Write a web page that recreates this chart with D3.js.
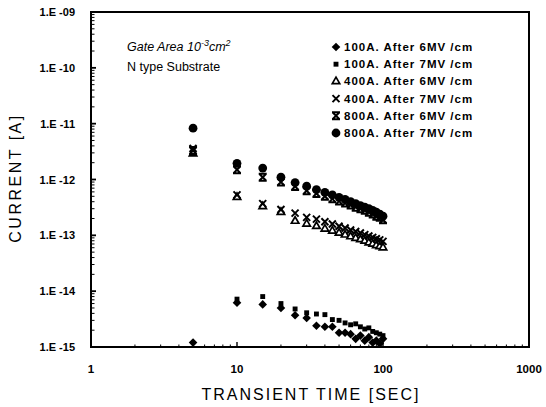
<!DOCTYPE html>
<html>
<head>
<meta charset="utf-8">
<script src="https://cdn.jsdelivr.net/npm/d3@7.9.0/dist/d3.min.js"></script>
<style>
  body { margin: 0; background: #fff; }
  svg { font-family: "Liberation Sans", Arial, sans-serif; }
</style>
</head>
<body>
<svg id="chart" width="546" height="407"></svg>
<script>
// transient time [sec]
const times = [5, 10, 15, 20, 25, 30, 35, 40, 45, 50, 55, 60, 65, 70, 75, 80, 85, 90, 95, 100];

// current [A]
const i100a6 = [1.2e-15, 6.2e-15, 5.8e-15, 5.0e-15, 3.7e-15, 3.3e-15, 2.4e-15, 2.3e-15, 2.3e-15, 1.8e-15,
                1.8e-15, 1.7e-15, 1.4e-15, 1.6e-15, 1.3e-15, 1.5e-15, 1.2e-15, 1.3e-15, 1.15e-15, 1.4e-15];
const i100a7 = [null, 7.2e-15, 8.0e-15, 6.0e-15, 4.8e-15, 4.1e-15, 3.9e-15, 3.8e-15, 3.1e-15, 3.0e-15,
                2.7e-15, 2.5e-15, 2.6e-15, 2.3e-15, 2.1e-15, 2.2e-15, 1.9e-15, 1.8e-15, 1.7e-15, 1.6e-15];
const i400a6 = [2.9e-12, 4.8e-13, 3.3e-13, 2.6e-13, 1.8e-13, 1.6e-13, 1.45e-13, 1.3e-13, 1.2e-13, 1.1e-13,
                1.02e-13, 9.5e-14, 8.9e-14, 8.4e-14, 7.9e-14, 7.4e-14, 7.0e-14, 6.6e-14, 6.3e-14, 6.0e-14];
const i400a7 = [3.6e-12, 5.3e-13, 3.7e-13, 2.9e-13, 2.5e-13, 2.1e-13, 1.95e-13, 1.75e-13, 1.6e-13, 1.45e-13,
                1.35e-13, 1.25e-13, 1.17e-13, 1.1e-13, 1.03e-13, 9.7e-14, 9.2e-14, 8.7e-14, 8.3e-14, 7.8e-14];
const i800a6 = [3.3e-12, 1.5e-12, 1.1e-12, 9.0e-13, 7.5e-13, 6.3e-13, 5.6e-13, 5.0e-13, 4.5e-13, 4.1e-13,
                3.8e-13, 3.5e-13, 3.2e-13, 3.0e-13, 2.8e-13, 2.6e-13, 2.4e-13, 2.2e-13, 2.1e-13, 1.9e-13];
const i800a7 = [8.3e-12, 1.95e-12, 1.6e-12, 1.1e-12, 8.8e-13, 7.6e-13, 6.6e-13, 5.9e-13, 5.3e-13, 4.8e-13,
                4.4e-13, 4.0e-13, 3.7e-13, 3.4e-13, 3.2e-13, 3.0e-13, 2.8e-13, 2.6e-13, 2.4e-13, 2.2e-13];

const seriesNames = ['100A. After 6MV /cm', '100A. After 7MV /cm', '400A. After 6MV /cm',
                     '400A. After 7MV /cm', '800A. After 6MV /cm', '800A. After 7MV /cm'];
const seriesValues = [i100a6, i100a7, i400a6, i400a7, i800a6, i800a7];
const seriesMarks = ['diamond', 'square', 'triangle', 'cross', 'hourglass', 'circle'];

const xTicks = [1, 10, 100, 1000];
const yTicks = [1e-15, 1e-14, 1e-13, 1e-12, 1e-11, 1e-10, 1e-9];
const yTickLabels = ['1.E -15', '1.E -14', '1.E -13', '1.E -12', '1.E -11', '1.E -10', '1.E -09'];

const svg = d3.select('#chart');
const plotLeft = 91, plotRight = 529, plotTop = 12, plotBottom = 347;

const x = d3.scaleLog().domain([1, 1000]).range([plotLeft, plotRight]);
const y = d3.scaleLog().domain([1e-15, 1e-9]).range([plotBottom, plotTop]);

// minor ticks for each decade
function minors(lo, hi) {
  let out = [];
  for (let d = lo; d < hi * 0.999; d *= 10) {
    for (let k = 2; k <= 9; k++) out.push(d * k);
  }
  return out;
}

// frame
svg.append('rect')
  .attr('x', plotLeft).attr('y', plotTop)
  .attr('width', plotRight - plotLeft).attr('height', plotBottom - plotTop)
  .attr('fill', 'none').attr('stroke', '#000').attr('stroke-width', 2);

// y axis ticks (pointing inward) and labels
const yAxis = svg.append('g').attr('transform', `translate(${plotLeft},0)`);
yAxis.selectAll('line.major').data(yTicks).join('line')
  .attr('x1', 0).attr('x2', 5)
  .attr('y1', d => y(d)).attr('y2', d => y(d))
  .attr('stroke', '#000').attr('stroke-width', 1.8);
yAxis.selectAll('line.minor').data(minors(1e-15, 1e-9)).join('line')
  .attr('x1', 0).attr('x2', 3.5)
  .attr('y1', d => y(d)).attr('y2', d => y(d))
  .attr('stroke', '#000').attr('stroke-width', 1);
yAxis.selectAll('text').data(yTicks).join('text')
  .attr('x', -16).attr('y', d => y(d) + 4)
  .attr('text-anchor', 'end').attr('font-size', 11).attr('font-weight', 'bold')
  .text((d, i) => yTickLabels[i]);

// x axis ticks and labels
const xAxis = svg.append('g');
xAxis.selectAll('line.major').data(xTicks).join('line')
  .attr('x1', d => x(d)).attr('x2', d => x(d))
  .attr('y1', plotBottom).attr('y2', plotBottom - 5)
  .attr('stroke', '#000').attr('stroke-width', 1.4);
xAxis.selectAll('line.minor').data(minors(1, 1000)).join('line')
  .attr('x1', d => x(d)).attr('x2', d => x(d))
  .attr('y1', plotBottom).attr('y2', plotBottom - 2.5)
  .attr('stroke', '#000').attr('stroke-width', 1);
xAxis.selectAll('text').data(xTicks).join('text')
  .attr('x', d => x(d)).attr('y', 373)
  .attr('text-anchor', 'middle').attr('font-size', 11.5).attr('font-weight', 'bold')
  .text(d => d);

// axis titles
svg.append('text')
  .attr('x', 311).attr('y', 400)
  .attr('text-anchor', 'middle').attr('font-size', 16).attr('letter-spacing', 2)
  .text('TRANSIENT TIME [SEC]');
svg.append('text')
  .attr('transform', 'translate(21,178) rotate(-90)')
  .attr('text-anchor', 'middle').attr('font-size', 16).attr('letter-spacing', 2.5)
  .text('CURRENT [A]');

// marker drawing
function drawMark(g, kind) {
  if (kind === 'diamond') {
    g.append('path').attr('d', 'M0,-4.3L4.3,0L0,4.3L-4.3,0Z').attr('fill', '#000');
  } else if (kind === 'square') {
    g.append('path').attr('d', d3.symbol(d3.symbolSquare, 24)()).attr('fill', '#000');
  } else if (kind === 'triangle') {
    g.append('path').attr('d', d3.symbol(d3.symbolTriangle, 24)())
      .attr('fill', '#fff').attr('stroke', '#000').attr('stroke-width', 1.7);
  } else if (kind === 'cross') {
    g.append('path').attr('d', 'M-3.5,-3.5L3.5,3.5M3.5,-3.5L-3.5,3.5')
      .attr('stroke', '#000').attr('stroke-width', 2).attr('fill', 'none');
  } else if (kind === 'hourglass') {
    g.append('path').attr('d', 'M-3.5,-3.5L3.5,3.5M3.5,-3.5L-3.5,3.5M-4,-3.5L4,-3.5M-4,3.5L4,3.5')
      .attr('stroke', '#000').attr('stroke-width', 2).attr('fill', 'none');
  } else {
    g.append('circle').attr('r', 4.4).attr('fill', '#000');
  }
}

// points
seriesValues.forEach((vals, s) => {
  const pts = times.map((t, i) => ({ t: t, v: vals[i] })).filter(d => d.v != null);
  const g = svg.append('g');
  pts.forEach(d => {
    const m = g.append('g').attr('transform', `translate(${x(d.t)},${y(d.v)})`);
    drawMark(m, seriesMarks[s]);
  });
});

// annotation
const note = svg.append('text').attr('x', 127).attr('y', 51)
  .attr('font-size', 12.5).attr('font-style', 'italic');
note.append('tspan').text('Gate Area 10');
note.append('tspan').attr('dy', -5).attr('font-size', 9).text('-3');
note.append('tspan').attr('dy', 5).text('cm');
note.append('tspan').attr('dy', -5).attr('font-size', 9).text('2');
svg.append('text').attr('x', 127).attr('y', 71)
  .attr('font-size', 12.5).text('N type Substrate');

// legend
const legend = svg.append('g');
seriesNames.forEach((name, i) => {
  const ly = 47 + i * 17.2;
  const m = legend.append('g').attr('transform', `translate(336,${ly})`);
  drawMark(m, seriesMarks[i]);
  legend.append('text').attr('x', 344).attr('y', ly + 4)
    .attr('font-size', 11.5).attr('font-weight', 'bold').attr('letter-spacing', 1)
    .text(name);
});
</script>
</body>
</html>
